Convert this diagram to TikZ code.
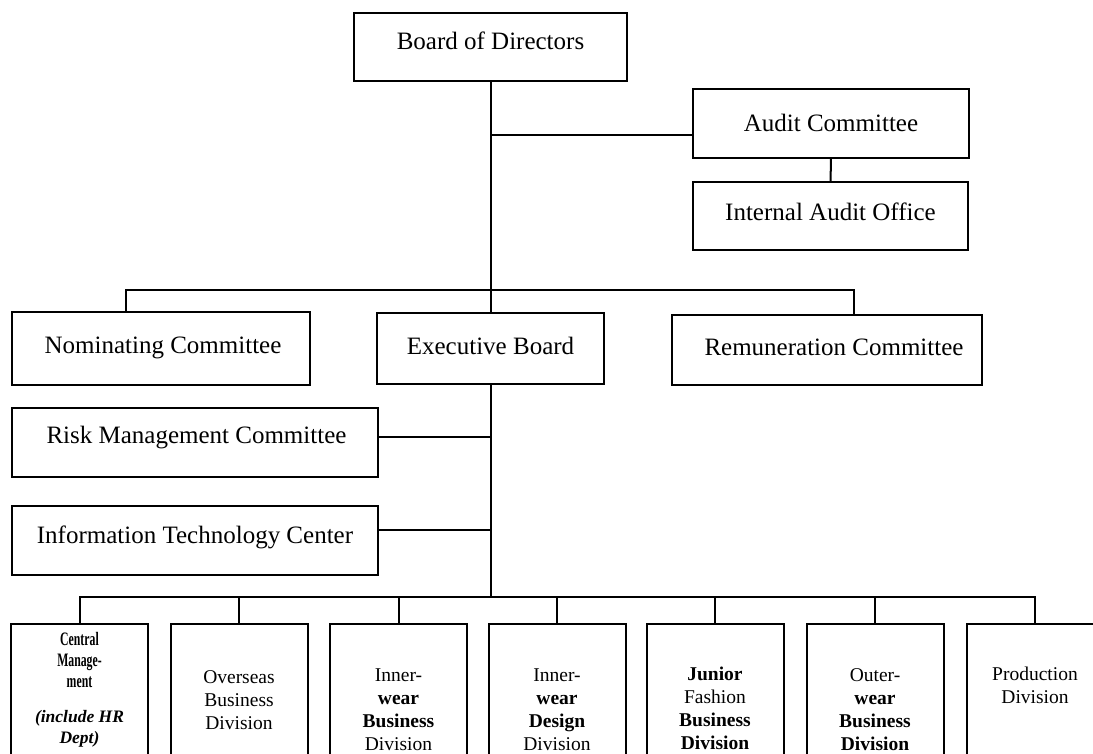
\documentclass[tikz,border=0pt]{standalone}
\usepackage{fontspec}
\setmainfont{Liberation Serif}
\usepackage{graphicx}
\newcommand{\cnd}[1]{\scalebox{0.62}[1]{#1}}
\begin{document}
\begin{tikzpicture}[x=1pt,y=-1pt,line width=2pt,
  box/.style={draw,fill=white,inner sep=0pt,font=\fontsize{25}{30}\selectfont,text height=17pt},
  divbox/.style={draw,fill=white,inner sep=0pt,anchor=north,minimum width=137pt,minimum height=160pt},
  divtext/.style={align=center,inner sep=0pt,anchor=base,font=\fontsize{19.5}{23}\selectfont}]
\useasboundingbox (0,0) rectangle (1093,753);
\clip (0,0) rectangle (1093,753);

% top level
\node[box,minimum width=273pt,minimum height=68pt,text depth=13pt] (bod) at (490.5,47) {Board of Directors};
\node[box,minimum width=276pt,minimum height=69pt,text depth=2pt] (audit) at (831,123.5) {Audit Committee};
\node[box,minimum width=275pt,minimum height=68pt,text depth=9pt] (iao) at (830.5,216) {Internal Audit Office};
\node[box,minimum width=298pt,minimum height=73pt,text depth=8pt] (nom) at (161,348.5) {\hspace*{4pt}Nominating Committee};
\node[box,minimum width=227pt,minimum height=71pt,text depth=6pt] (exec) at (490.5,348.5) {Executive Board};
\node[box,minimum width=310pt,minimum height=70pt,text depth=7pt] (rem) at (827,350) {\hspace*{14pt}Remuneration Committee};
\node[box,minimum width=366pt,minimum height=69pt,text depth=16pt] (risk) at (195,442.5) {\hspace*{3pt}Risk Management Committee};
\node[box,minimum width=366pt,minimum height=69pt,text depth=12pt] (itc) at (195,540.5) {Information Technology Center};

% divisions
\node[divbox] (d1) at (79.5,623) {};
\node[divbox] (d2) at (239,623) {};
\node[divbox] (d3) at (398.5,623) {};
\node[divbox] (d4) at (557,623) {};
\node[divbox] (d5) at (715,623) {};
\node[divbox] (d6) at (875,623) {};
\node[divbox] (d7) at (1035,623) {};

% text nodes: base anchor = baseline of last line
\node[divtext,font=\bfseries\fontsize{19}{21}\selectfont] (t1) at (79.5,743)
  {\cnd{Central}\\\cnd{Manage-}\\\cnd{ment}\\[14pt]{\itshape\fontsize{17.5}{21}\selectfont (include HR}\\{\itshape\fontsize{17.5}{21}\selectfont Dept)}};
\node[divtext] (t2) at (239,729) {Overseas\\Business\\Division};
\node[divtext] (t3) at (398.5,750) {Inner-\\\textbf{wear}\\\textbf{Business}\\Division};
\node[divtext] (t4) at (557,750) {Inner-\\\textbf{wear}\\\textbf{Design}\\Division};
\node[divtext] (t5) at (715,749) {\textbf{Junior}\\Fashion\\\textbf{Business}\\\textbf{Division}};
\node[divtext] (t6) at (875,750) {Outer-\\\textbf{wear}\\\textbf{Business}\\\textbf{Division}};
\node[divtext] (t7) at (1035,703) {Production\\Division};

% connectors
\draw (bod) -- (exec);
\coordinate (aj) at (490.5,135);
\draw (aj) -- (aj -| audit.west);
\draw (audit) -- (iao);
\draw ([xshift=-35pt]nom.north) -- ++(0,-21) -| ([xshift=27pt]rem.north);
\coordinate (bus) at (490.5,597);
\draw (exec.south) -- (bus);
\draw ([yshift=5.5pt]risk.east) -- ([yshift=5.5pt]risk.east -| exec.south);
\draw ([yshift=10.5pt]itc.east) -- ([yshift=10.5pt]itc.east -| exec.south);
\draw (d1.north) -- ++(0,-26) -| (d7.north);
\foreach \d in {d2,d3,d4,d5,d6} \draw (\d.north) -- ++(0,-26);
\end{tikzpicture}
\end{document}
